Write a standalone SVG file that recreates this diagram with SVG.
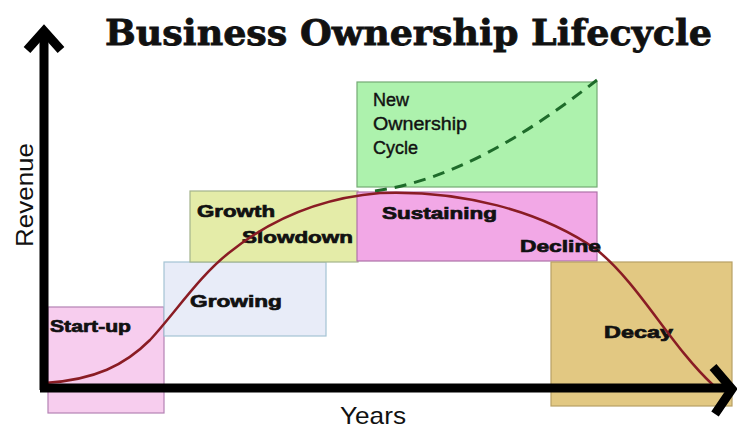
<svg xmlns="http://www.w3.org/2000/svg" width="737" height="429" viewBox="0 0 737 429">
<style>
.box{stroke-width:1.2}
.lbl{font-family:"Liberation Sans",Arial,sans-serif;font-weight:bold;font-size:17px;fill:#111;stroke:#111;stroke-width:0.7}
.axis{font-family:"Liberation Sans",Arial,sans-serif;font-size:24px;fill:#111}
.ax{stroke:#000;stroke-width:9;fill:none}
</style>
<rect width="737" height="429" fill="#fff"/>
<text x="105" y="45" font-family="'DejaVu Serif',serif" font-weight="bold" font-size="36" textLength="607" lengthAdjust="spacingAndGlyphs" fill="#111" stroke="#111" stroke-width="0.8">Business Ownership Lifecycle</text>
<g id="startup"><rect class="box" x="48" y="307" width="116" height="106" fill="#f7cdee" stroke="#b482b4"/><text class="lbl" x="50" y="332" textLength="81" lengthAdjust="spacingAndGlyphs">Start-up</text></g>
<g id="growing"><rect class="box" x="164" y="262" width="162" height="74" fill="#e8ecf8" stroke="#a4c4d4"/><text class="lbl" x="190" y="307" font-size="19" textLength="92" lengthAdjust="spacingAndGlyphs">Growing</text></g>
<g id="growth-slowdown"><rect class="box" x="190" y="191" width="168" height="71" fill="#e4eca8" stroke="#a4b48c"/><text class="lbl" x="197" y="217" textLength="78" lengthAdjust="spacingAndGlyphs">Growth</text><text class="lbl" x="242" y="243" textLength="111" lengthAdjust="spacingAndGlyphs">Slowdown</text></g>
<g id="new-ownership"><rect class="box" x="357" y="82" width="240" height="105" fill="#adf2ad" stroke="#74aa74"/><g font-family="'Liberation Sans',Arial,sans-serif" font-size="18" fill="#111" stroke="#111" stroke-width="0.4"><text x="373" y="106">New</text><text x="373" y="130" textLength="94" lengthAdjust="spacingAndGlyphs">Ownership</text><text x="373" y="154">Cycle</text></g></g>
<g id="sustaining"><rect class="box" x="357" y="192" width="240" height="69" fill="#f2a8e6" stroke="#ae72a8"/><text class="lbl" x="382" y="219" textLength="115" lengthAdjust="spacingAndGlyphs">Sustaining</text></g>
<g id="decay"><rect class="box" x="551" y="262" width="181" height="144" fill="#e2c882" stroke="#b8a064"/><text class="lbl" x="604" y="338" textLength="69" lengthAdjust="spacingAndGlyphs">Decay</text></g>
<g id="connectors">
<path d="M375,191 C450,180 520,140 597,80" fill="none" stroke="#1e6b2a" stroke-width="3" stroke-dasharray="12,8"/>
<path d="M45,383 C95,380 125,365 150,340 C175,313 200,275 230,252 C270,220 320,198 380,193 C460,190 540,210 597,250 C640,285 670,345 713,385" fill="none" stroke="#8a1c24" stroke-width="2.5"/>
<text class="lbl" x="520" y="252" textLength="81" lengthAdjust="spacingAndGlyphs">Decline</text>
</g>
<g id="axes">
<line class="ax" x1="44" y1="30" x2="44" y2="390"/>
<polyline class="ax" points="27,50 44,31 61,50"/>
<line class="ax" x1="40" y1="388" x2="730" y2="388"/>
<polyline class="ax" points="713,367 732,389 715,414" stroke-width="10"/>
<text class="axis" x="373" y="424" text-anchor="middle" textLength="66" lengthAdjust="spacingAndGlyphs">Years</text>
<text class="axis" transform="translate(33,195) rotate(-90)" text-anchor="middle" textLength="104" lengthAdjust="spacingAndGlyphs">Revenue</text>
</g>
</svg>
